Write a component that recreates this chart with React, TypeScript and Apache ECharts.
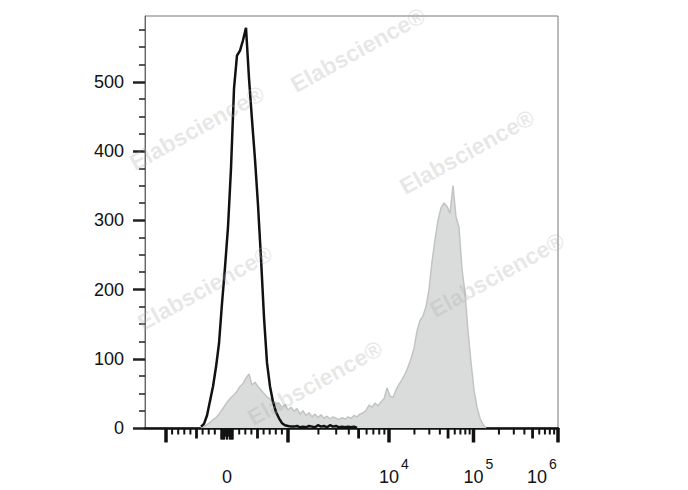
import React, { useEffect, useRef } from "react";
import * as echarts from "echarts";

// Histogram bins are in display-channel units (biexponential scale, 0 = zero fluorescence)
const binStart = -26;
const binStep = 3;

// Unstained / control (black outline)
const controlCounts = [
  2, 6, 18, 39, 60, 88, 122, 180, 232, 290, 375, 490, 538, 545, 560, 578, 505, 445, 388, 322,
  245, 160, 94, 60, 38, 23, 14, 7, 4, 3, 2, 2, 3, 1, 2, 1, 3, 2, 1, 4,
  2, 3, 1, 4, 2, 3, 1, 2, 1, 2, 1, 2, 0,
];

// Stained sample (grey filled)
const stainedCounts = [
  0, 2, 5, 8, 12, 15, 20, 26, 33, 39, 44, 48, 53, 60, 64, 72, 78, 62, 66, 60,
  55, 50, 45, 42, 38, 35, 36, 30, 34, 26, 30, 24, 28, 20, 25, 18, 22, 16, 20, 15,
  19, 14, 17, 13, 16, 14, 12, 15, 13, 16, 14, 18, 16, 20, 22, 25, 33, 30, 36, 32,
  38, 42, 58, 46, 44, 55, 63, 70, 78, 88, 100, 115, 140, 155, 162, 175, 200, 240, 272, 300,
  318, 325, 320, 310, 350, 305, 290, 230, 195, 140, 95, 55, 30, 14, 5, 0,
];

const yTickLabels = [0, 100, 200, 300, 400, 500];

const xMajorValues = [-1000, 1000, 10000, 100000, 1000000];
const xMediumValues = [-500, 500, 5000, 50000, 500000];
const xMinorValues = [
  -900, -800, -700, -600, -400, -300, -200,
  200, 300, 400, 600, 700, 800, 900,
  2000, 3000, 4000, 6000, 7000, 8000, 9000,
  20000, 30000, 40000, 60000, 70000, 80000, 90000,
  200000, 300000, 400000, 600000, 700000, 800000, 900000,
];
const xZeroBlockValues = [
  -100, -90, -80, -70, -60, -50, -40, -30, -20, -10, 0,
  10, 20, 30, 40, 50, 60, 70, 80, 90, 100,
];

const xLabelValues = [0, 10000, 100000, 1000000];
const xLabelBases = ["0", "10", "10", "10"];
const xLabelExps = ["", "4", "5", "6"];

const FONT = '"Liberation Sans", Arial, Helvetica, sans-serif';

// biexponential-like display transform (fluorescence value -> display channel)
function T(v: number): number {
  const a = Math.abs(v);
  const s = v < 0 ? -1 : 1;
  if (a <= 1000) return s * 0.061 * a;
  if (a <= 10000) return s * (61 + 101 * Math.log10(a / 1000));
  return s * (162 + 84.5 * Math.log10(a / 10000));
}

export default function App() {
  const ref = useRef<HTMLDivElement>(null);
  useEffect(() => {
    if (!ref.current) return;
    const chart = echarts.init(ref.current, undefined, { renderer: "svg" });

    const tickData: number[][] = [];
    xMajorValues.forEach((v) => tickData.push([T(v), 2]));
    xMediumValues.forEach((v) => tickData.push([T(v), 1]));
    xMinorValues.forEach((v) => tickData.push([T(v), 0]));
    xZeroBlockValues.forEach((v) => tickData.push([T(v), Math.abs(v) === 20 || Math.abs(v) === 30 ? 4 : 3]));

    const watermark = (x: number, y: number) => ({
      type: "text",
      x,
      y,
      rotation: (29 * Math.PI) / 180,
      z: 100,
      silent: true,
      style: {
        text: "Elabscience®",
        fill: "rgba(170,170,170,0.28)",
        font: `bold 23px ${FONT}`,
        align: "center",
        verticalAlign: "middle",
        textAlign: "center",
        textVerticalAlign: "middle",
      },
    });

    chart.setOption({
      animation: false,
      backgroundColor: "#fff",
      grid: {
        left: 145,
        right: 130,
        top: 16,
        bottom: 62,
        show: true,
        borderColor: "#777",
        borderWidth: 1,
      },
      xAxis: {
        type: "value",
        min: -82,
        max: 331,
        axisLine: { show: true, onZero: false, lineStyle: { color: "#111", width: 2.5 } },
        axisTick: { show: false },
        axisLabel: { show: false },
        splitLine: { show: false },
      },
      yAxis: {
        type: "value",
        min: 0,
        max: 595,
        interval: 100,
        axisLine: { show: true, onZero: false, lineStyle: { color: "#666", width: 1 } },
        axisTick: {
          show: true,
          length: 12,
          customValues: yTickLabels,
          lineStyle: { color: "#222", width: 2.5 },
        },
        minorTick: { show: true, splitNumber: 4, length: 6, lineStyle: { color: "#222", width: 1.5 } },
        axisLabel: {
          show: true,
          customValues: yTickLabels,
          margin: 21,
          color: "#111",
          fontSize: 18,
          fontFamily: FONT,
        },
        splitLine: { show: false },
      },
      graphic: [
        watermark(358, 50),
        watermark(197, 128),
        watermark(467, 152),
        watermark(497, 275),
        watermark(205, 288),
        watermark(315, 383),
      ],
      series: [
        {
          type: "line",
          name: "stained",
          data: stainedCounts.map((c, i) => [binStart + i * binStep, c]),
          symbol: "none",
          smooth: false,
          lineStyle: { color: "#c2c4c4", width: 1.5 },
          areaStyle: { color: "#dadcdc", opacity: 1 },
          z: 2,
        },
        {
          type: "line",
          name: "control",
          data: controlCounts.map((c, i) => [binStart + i * binStep, c]),
          symbol: "none",
          smooth: false,
          lineStyle: { color: "#111", width: 2.5 },
          z: 3,
        },
        {
          type: "custom",
          name: "xticks",
          silent: true,
          clip: false,
          data: tickData,
          renderItem: (params: any, api: any) => {
            const p = api.coord([api.value(0), 0]);
            const kind = api.value(1);
            const len = kind === 2 ? 13 : kind === 1 ? 9 : kind === 3 ? 10 : kind === 4 ? 7 : 5;
            const w = kind === 2 ? 3.5 : kind === 1 ? 2.8 : kind >= 3 ? 1.2 : 2;
            return {
              type: "line",
              shape: { x1: p[0], y1: p[1], x2: p[0], y2: p[1] + 1.5 + len },
              style: { stroke: "#111", lineWidth: w },
            };
          },
          z: 4,
        },
        {
          type: "custom",
          name: "xlabels",
          silent: true,
          clip: false,
          data: xLabelValues.map((v) => [T(v), 0]),
          renderItem: (params: any, api: any) => {
            const i = params.dataIndex;
            const p = api.coord([api.value(0), 0]);
            const cs = params.coordSys;
            const gridRight = cs.x + cs.width;
            const exp = xLabelExps[i];
            let cx = p[0];
            if (exp) cx = Math.min(cx, gridRight - 21);
            const children: any[] = [
              {
                type: "text",
                style: {
                  text: xLabelBases[i],
                  x: cx,
                  y: p[1] + 49,
                  fill: "#111",
                  font: `18px ${FONT}`,
                  align: "center",
                  verticalAlign: "middle",
                  textAlign: "center",
                  textVerticalAlign: "middle",
                },
              },
            ];
            if (exp) {
              children.push({
                type: "text",
                style: {
                  text: exp,
                  x: cx + 12,
                  y: p[1] + 36,
                  fill: "#111",
                  font: `14px ${FONT}`,
                  align: "left",
                  verticalAlign: "middle",
                  textAlign: "left",
                  textVerticalAlign: "middle",
                },
              });
            }
            return { type: "group", children };
          },
          z: 4,
        },
      ],
    });
    return () => chart.dispose();
  }, []);
  return (
    <div
      ref={ref}
      style={{ position: "fixed", left: 0, top: 0, width: 688, height: 490 }}
    />
  );
}
